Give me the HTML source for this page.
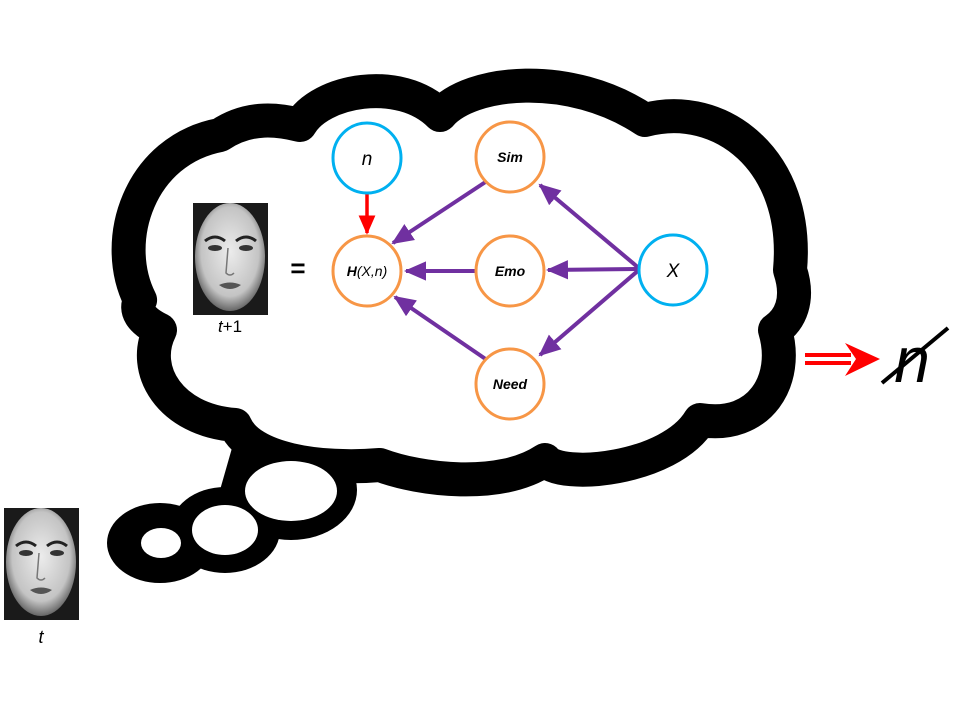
<!DOCTYPE html>
<html><head><meta charset="utf-8"><style>html,body{margin:0;padding:0;background:#fff}svg{display:block}</style></head>
<body>
<svg width="960" height="720" viewBox="0 0 960 720" xmlns="http://www.w3.org/2000/svg" font-family="Liberation Sans, sans-serif">
<defs>
<marker id="pa" markerWidth="6" markerHeight="6" refX="5" refY="3" orient="auto" markerUnits="strokeWidth"><path d="M0,0.6 L5.5,3 L0,5.4 Z" fill="#7030a0"/></marker>
<marker id="ra" markerWidth="6" markerHeight="6" refX="5" refY="3" orient="auto" markerUnits="strokeWidth"><path d="M0,0.6 L5.5,3 L0,5.4 Z" fill="#ff0000"/></marker>
<radialGradient id="fg" cx="0.5" cy="0.45" r="0.55"><stop offset="0" stop-color="#ececec"/><stop offset="0.75" stop-color="#c4c4c4"/><stop offset="1" stop-color="#666"/></radialGradient>
<g id="face">
<rect x="0" y="0" width="75" height="112" fill="#1a1a1a"/>
<ellipse cx="37" cy="54" rx="35" ry="54" fill="url(#fg)"/>
<path d="M12,38 Q22,30 32,38" stroke="#222" stroke-width="3" fill="none"/>
<path d="M43,38 Q53,30 63,38" stroke="#222" stroke-width="3" fill="none"/>
<ellipse cx="22" cy="45" rx="7" ry="3" fill="#333"/>
<ellipse cx="53" cy="45" rx="7" ry="3" fill="#333"/>
<path d="M35,45 L33,70 Q37,74 41,70" stroke="#777" stroke-width="1.5" fill="none"/>
<path d="M26,82 Q37,77 48,82 Q37,90 26,82Z" fill="#555"/>
</g>
</defs>

<!-- tail -->
<g fill="#000">
<ellipse cx="291" cy="490" rx="66" ry="50"/>
<ellipse cx="225" cy="530" rx="55" ry="43"/>
<ellipse cx="160" cy="543" rx="53" ry="40"/>
<path d="M240,420 L340,440 L340,500 L200,560 Z"/>
</g>
<!-- cloud -->
<path d="M140,300 C110,240 140,150 220,135 C250,115 280,120 300,125 C320,90 400,75 440,115 C470,80 570,70 645,120 C720,100 800,160 790,270 C800,300 790,320 775,330 C790,380 760,430 700,420 C670,470 560,480 545,460 C500,490 420,480 380,465 C320,470 250,460 235,425 C170,420 140,370 160,330 C140,320 135,310 140,300 Z" fill="#fff" stroke="#000" stroke-width="34" stroke-linejoin="round"/>
<g fill="#fff">
<ellipse cx="291" cy="491" rx="46" ry="30"/>
<ellipse cx="225" cy="530" rx="33" ry="25"/>
<ellipse cx="161" cy="543" rx="20" ry="15"/>
</g>

<!-- faces -->
<use href="#face" x="193" y="203"/>
<use href="#face" x="4" y="508"/>
<text x="230" y="332" font-size="17" text-anchor="middle"><tspan font-style="italic">t</tspan>+1</text>
<text x="41" y="643" font-size="18" text-anchor="middle" font-style="italic">t</text>
<text x="298" y="277" font-size="26" font-weight="bold" text-anchor="middle">=</text>

<!-- arrows -->
<g stroke="#7030a0" stroke-width="4" fill="none" marker-end="url(#pa)">
<line x1="487" y1="181" x2="393" y2="243"/>
<line x1="476" y1="271" x2="406" y2="271"/>
<line x1="640" y1="269" x2="548" y2="270"/>
<line x1="640" y1="269" x2="540" y2="185"/>
<line x1="640" y1="269" x2="540" y2="355"/>
<line x1="487" y1="360" x2="395" y2="297"/>
</g>
<line x1="367" y1="193" x2="367" y2="233" stroke="#ff0000" stroke-width="3.5" marker-end="url(#ra)"/>

<!-- nodes -->
<g stroke-width="3" fill="#fff">
<ellipse cx="367" cy="158" rx="34" ry="35" stroke="#00b0f0"/>
<ellipse cx="673" cy="270" rx="34" ry="35" stroke="#00b0f0"/>
<ellipse cx="510" cy="157" rx="34" ry="35" stroke="#f79646"/>
<ellipse cx="367" cy="271" rx="34" ry="35" stroke="#f79646"/>
<ellipse cx="510" cy="271" rx="34" ry="35" stroke="#f79646"/>
<ellipse cx="510" cy="384" rx="34" ry="35" stroke="#f79646"/>
</g>
<g font-style="italic" text-anchor="middle">
<text x="367" y="165" font-size="19">n</text>
<text x="673" y="277" font-size="19">X</text>
<text x="510" y="162" font-size="14" font-weight="bold">Sim</text>
<text x="510" y="276" font-size="14" font-weight="bold">Emo</text>
<text x="510" y="389" font-size="14" font-weight="bold">Need</text>
<text x="367" y="276" font-size="14"><tspan font-weight="bold">H</tspan>(X,n)</text>
</g>

<!-- right arrow & crossed n -->
<g fill="#ff0000">
<rect x="805" y="353" width="46" height="4"/>
<rect x="805" y="361" width="46" height="4"/>
<path d="M845,343 L880,359 L845,376 L856,359 Z"/>
</g>
<text x="912" y="382" font-size="64" font-style="italic" text-anchor="middle">n</text>
<line x1="882" y1="383" x2="948" y2="328" stroke="#000" stroke-width="4"/>
</svg>
</body></html>
